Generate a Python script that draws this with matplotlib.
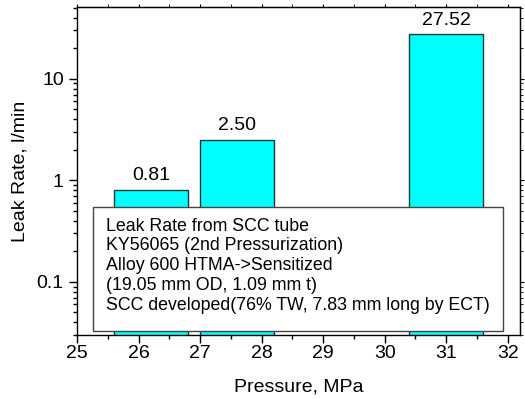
import matplotlib.pyplot as plt
from matplotlib.ticker import FixedLocator, FuncFormatter, LogLocator, NullFormatter
from matplotlib.patches import Rectangle

plt.rcParams['font.family'] = ['Liberation Sans', 'DejaVu Sans']

pressure = [26.2, 27.6, 31.0]
leak_rate = [0.81, 2.50, 27.52]
bar_labels = ['0.81', '2.50', '27.52']
note_lines = [
    'Leak Rate from SCC tube',
    'KY56065 (2nd Pressurization)',
    'Alloy 600 HTMA->Sensitized',
    '(19.05 mm OD, 1.09 mm t)',
    'SCC developed(76% TW, 7.83 mm long by ECT)',
]

fig = plt.figure(figsize=(5.25, 3.99), dpi=100)
ax = fig.add_axes([77 / 525, 64 / 399, 443 / 525, 328 / 399])

ax.bar(pressure, leak_rate, width=1.2, color='#00ffff', edgecolor='#1a3a3a', linewidth=1.0, zorder=2)
for x, y, lab in zip(pressure, leak_rate, bar_labels):
    ax.annotate(lab, (x, y), xytext=(0, 4), textcoords='offset points',
                ha='center', va='bottom', fontsize=14)

ax.set_yscale('log')
ax.set_xlim(25, 32.2)
ax.set_ylim(0.03, 51)

xmaj = [25, 26, 27, 28, 29, 30, 31, 32]
xmin = [25.5, 26.5, 27.5, 28.5, 29.5, 30.5, 31.5]
ax.xaxis.set_major_locator(FixedLocator(xmaj))
ax.xaxis.set_minor_locator(FixedLocator(xmin))
ax.yaxis.set_major_locator(LogLocator(base=10))
ax.yaxis.set_minor_locator(LogLocator(base=10, subs=range(2, 10)))
ax.yaxis.set_major_formatter(FuncFormatter(lambda v, p: '%g' % v))
ax.yaxis.set_minor_formatter(NullFormatter())

ax.tick_params(which='both', labelsize=14, width=1.0)
ax.tick_params(which='major', direction='out', length=6, top=False, right=False)
ax.tick_params(which='minor', direction='out', length=3, top=False, right=False)
ax.tick_params(axis='x', which='major', pad=1)

# small outward ticks on top and right, no labels
ax2 = ax.secondary_xaxis('top')
ax2.xaxis.set_major_locator(FixedLocator(xmaj))
ax2.xaxis.set_minor_locator(FixedLocator(xmin))
ax2.tick_params(which='both', direction='out', length=2, labeltop=False)
ax3 = ax.secondary_yaxis('right')
ax3.yaxis.set_major_locator(LogLocator(base=10))
ax3.yaxis.set_minor_locator(LogLocator(base=10, subs=range(2, 10)))
ax3.tick_params(which='major', direction='out', length=3, labelright=False)
ax3.tick_params(which='minor', direction='out', length=2, labelright=False)
ax3.yaxis.set_minor_formatter(NullFormatter())

for s in ax.spines.values():
    s.set_linewidth(1.0)

ax.set_xlabel('Pressure, MPa', fontsize=14, labelpad=12)
ax.set_ylabel('Leak Rate, l/min', fontsize=14, labelpad=6)

box = Rectangle((0.036, 0.012), 0.926, 0.378, transform=ax.transAxes,
                facecolor='white', edgecolor='#444444', linewidth=1.0, zorder=5)
ax.add_patch(box)
ax.text(0.065, 0.358, '\n'.join(note_lines), transform=ax.transAxes,
        ha='left', va='top', fontsize=12.8, linespacing=1.22, zorder=6)

fig.savefig('out.png', dpi=100)
